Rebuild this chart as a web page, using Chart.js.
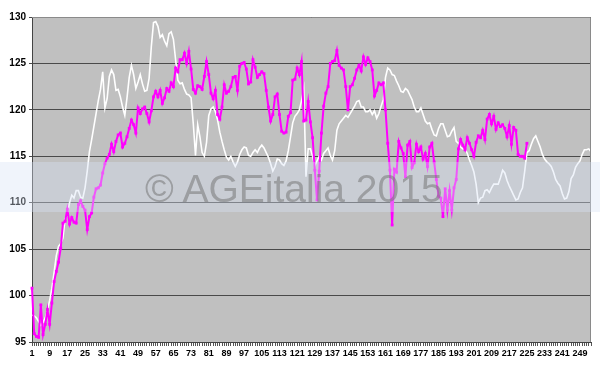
<!DOCTYPE html>
<html>
<head>
<meta charset="utf-8">
<script src="https://cdn.jsdelivr.net/npm/chart.js@4"></script>
<style>
  body { margin: 0; background: #fff; }
  #wrap { position: relative; width: 600px; height: 374px; }
  #band {
    position: absolute; left: 0; top: 162px; width: 600px; height: 50px;
    background: rgba(215, 225, 245, 0.38); pointer-events: none;
  }
  #mark {
    position: absolute; left: 145px; top: 167px; line-height: 39px;
    font: 39px "Liberation Sans", Arial, sans-serif; color: rgba(110, 110, 110, 0.5);
    white-space: nowrap; pointer-events: none;
  }
</style>
</head>
<body>
<div id="wrap">
  <canvas id="chart" width="600" height="374"></canvas>
  <div id="band"></div>
  <div id="mark">© AGEitalia 2015</div>
</div>
<script>
// Categories 1..254, a label every 8th
const categories = Array.from({ length: 254 }, (_, i) => String(i + 1));
const labelStep = 8;

// Y axis
const yMin = 95;
const yMax = 130;
const yStep = 5;

// White series (full length)
const whiteSeries = [
  97.9, 97.8, 97.6, 97.2, 96.8, 97.1, 97.6, 98.4, 99.5, 100.8,
  102.5, 104.3, 105.3, 105.6, 106.2, 108.3, 108.7, 110.0, 110.8, 110.5,
  111.3, 111.3, 110.6, 110.5, 111.6, 113.4, 115.5, 116.8, 118.2, 119.6,
  121.0, 122.2, 124.1, 120.2, 121.2, 123.6, 124.3, 123.8, 122.1, 122.2,
  121.4, 120.3, 119.4, 121.3, 123.5, 124.8, 123.8, 122.3, 123.0, 123.8,
  122.8, 122.0, 122.1, 123.4, 126.8, 129.4, 129.5, 129.0, 127.8, 128.1,
  127.4, 126.9, 128.2, 128.4, 127.6, 125.4, 123.2, 122.8, 122.9, 122.2,
  121.7, 121.6, 121.3, 118.5, 115.1, 118.4, 117.1, 115.4, 115.0, 116.5,
  119.4, 120.1, 120.3, 119.8, 118.9, 117.6, 116.6, 115.7, 114.9, 114.6,
  115.0, 114.4, 113.9, 114.4, 115.2, 115.7, 116.0, 115.9, 115.1, 115.0,
  115.4, 115.7, 115.4, 115.9, 116.2, 115.9, 115.4, 114.9, 114.2, 113.4,
  113.9, 114.7, 114.6, 114.2, 114.0, 114.5, 115.6, 117.1, 118.6, 119.3,
  119.6, 120.0, 121.0, 122.3, 112.8, 115.8, 115.8, 115.0, 114.0, 114.5,
  115.0, 114.6, 115.3, 115.6, 115.9, 115.1, 114.6, 115.6, 117.8, 118.5,
  118.8, 119.1, 119.4, 119.2, 119.6, 120.0, 120.4, 120.9, 121.0, 120.3,
  120.3, 119.8, 119.8, 120.0, 119.5, 119.9, 119.1, 119.6, 120.4, 121.1,
  123.5, 124.5, 124.3, 123.8, 123.7, 123.1, 122.6, 122.0, 121.9, 122.3,
  122.1, 121.6, 121.1, 120.3, 119.8, 119.8, 120.2, 119.5, 118.8, 118.5,
  118.6, 117.9, 117.3, 117.2, 118.0, 118.5, 118.5, 117.8, 117.1, 117.2,
  117.7, 118.1, 116.6, 116.4, 116.0, 115.8, 115.8, 115.3, 114.6, 114.0,
  113.3, 112.0, 110.0, 110.5, 110.6, 111.3, 111.4, 111.1, 111.6, 112.0,
  112.0, 112.0, 112.7, 113.5, 113.2, 112.4, 111.8, 111.3, 110.8, 110.3,
  110.4, 111.1, 111.6, 113.4, 115.4, 115.6, 116.3, 116.9, 117.2, 116.6,
  116.0, 115.2, 114.7, 114.4, 114.2, 113.9, 113.3, 112.5, 112.1, 111.8,
  111.0, 110.4, 110.5, 111.2, 112.6, 113.0, 113.8, 114.2, 114.5, 115.2,
  115.7, 115.7, 115.8, 115.5,
];

// Magenta series (stops at 225)
const magentaSeries = [
  100.8, 95.9, 95.6, 95.5, 99.0, 95.8, 96.9, 98.5, 96.9, 99.2,
  101.5, 102.6, 103.6, 105.1, 107.8, 108.0, 109.3, 107.7, 108.4, 107.9,
  107.8, 109.8, 110.2, 109.6, 109.2, 107.1, 108.5, 108.9, 110.6, 111.5,
  111.6, 111.9, 113.2, 114.2, 114.8, 115.2, 116.3, 115.5, 116.6, 117.3,
  117.5, 116.0, 116.4, 117.1, 118.0, 118.9, 118.4, 117.5, 120.2, 119.6,
  120.1, 120.3, 119.6, 118.7, 119.9, 121.4, 122.0, 121.4, 122.1, 120.7,
  121.3, 122.3, 122.0, 122.9, 122.5, 124.5, 124.1, 125.4, 125.4, 126.1,
  125.0, 126.3, 124.4, 122.2, 121.8, 122.6, 122.5, 122.2, 123.6, 125.2,
  123.8, 121.8, 121.2, 122.1, 119.5, 119.0, 120.3, 122.7, 121.8, 122.0,
  122.5, 123.5, 123.6, 122.1, 124.7, 125.0, 125.1, 124.4, 122.8, 123.0,
  125.4, 124.6, 123.5, 123.8, 124.1, 123.9, 122.1, 120.3, 118.8, 119.5,
  121.4, 121.7, 119.5, 117.7, 117.5, 117.6, 119.3, 119.7, 123.2, 123.3,
  124.5, 123.8, 125.2, 118.8, 118.9, 120.9, 118.7, 117.0, 113.5, 110.3,
  113.4, 117.5, 120.4, 121.8, 122.5, 125.0, 125.2, 125.3, 126.4, 124.8,
  124.5, 124.3, 122.5, 120.0, 122.5, 122.7, 123.4, 124.3, 124.8, 124.2,
  125.7, 124.9, 125.6, 125.2, 124.3, 121.5, 122.1, 122.9, 122.7, 122.9,
  120.0, 116.4, 113.5, 107.6, 113.6, 113.3, 116.6, 115.9, 115.3, 112.8,
  116.2, 116.6, 113.8, 114.3, 116.3, 115.5, 116.0, 114.7, 115.3, 113.9,
  116.0, 116.4, 114.4, 112.5, 110.7, 110.5, 108.5, 111.5, 109.2, 111.3,
  109.2, 111.6, 112.5, 115.8, 116.8, 116.2, 115.7, 117.0, 116.4, 115.7,
  115.0, 116.5, 117.2, 117.0, 117.8, 116.8, 119.0, 119.5, 118.5, 119.3,
  117.9, 118.6, 118.2, 118.4, 118.0, 117.1, 118.3, 116.3, 118.1, 117.8,
  115.2, 115.0, 115.0, 114.8, 116.4,
];

// Gray plot area with a thin border
const plotArea = {
  id: "plotArea",
  beforeDraw(chart) {
    const { ctx, chartArea: a } = chart;
    ctx.save();
    ctx.fillStyle = "#c0c0c0";
    ctx.fillRect(a.left, a.top, a.right - a.left, a.bottom - a.top);
    ctx.restore();
  },
  afterDatasetsDraw(chart) {
    const { ctx, chartArea: a } = chart;
    ctx.save();
    ctx.strokeStyle = "#8a8a8a";
    ctx.lineWidth = 1;
    ctx.beginPath();
    ctx.moveTo(a.left, a.top + 0.5);
    ctx.lineTo(a.right - 0.5, a.top + 0.5);
    ctx.lineTo(a.right - 0.5, a.bottom);
    ctx.stroke();
    ctx.restore();
  },
};

const tickFont = { family: "'Liberation Sans', Arial, sans-serif", weight: "bold" };

new Chart(document.getElementById("chart"), {
  type: "line",
  data: {
    labels: categories,
    datasets: [
      {
        label: "magenta",
        data: magentaSeries,
        borderColor: "#ff00ff",
        backgroundColor: "#ff00ff",
        borderWidth: 2,
        pointStyle: "rect",
        pointRadius: 2,
        pointBorderWidth: 0,
        tension: 0,
      },
      {
        label: "white",
        data: whiteSeries,
        borderColor: "#ffffff",
        borderWidth: 1.6,
        pointRadius: 0,
        tension: 0,
      },
    ],
  },
  options: {
    responsive: false,
    animation: false,
    devicePixelRatio: 1,
    layout: { padding: { left: 0, right: 9, top: 17, bottom: 0 } },
    plugins: { legend: { display: false }, tooltip: { enabled: false } },
    scales: {
      x: {
        offset: false,
        grid: {
          drawOnChartArea: false,
          drawTicks: true,
          tickLength: 4,
          color: "#555",
        },
        border: { color: "#444", width: 1 },
        ticks: {
          autoSkip: false,
          maxRotation: 0,
          padding: 2,
          color: "#000",
          font: { ...tickFont, size: 9 },
          callback: (v, i) => (i % labelStep === 0 ? categories[i] : ""),
        },
        afterFit(scale) { scale.height = 32; },
      },
      y: {
        min: yMin,
        max: yMax,
        grid: { color: "#4a4a4a", tickLength: 3, lineWidth: 1 },
        border: { color: "#444", width: 1 },
        ticks: {
          stepSize: yStep,
          padding: 3,
          color: "#000",
          font: { ...tickFont, size: 10 },
        },
        afterFit(scale) { scale.width = 32; },
      },
    },
  },
  plugins: [plotArea],
});
</script>
</body>
</html>
